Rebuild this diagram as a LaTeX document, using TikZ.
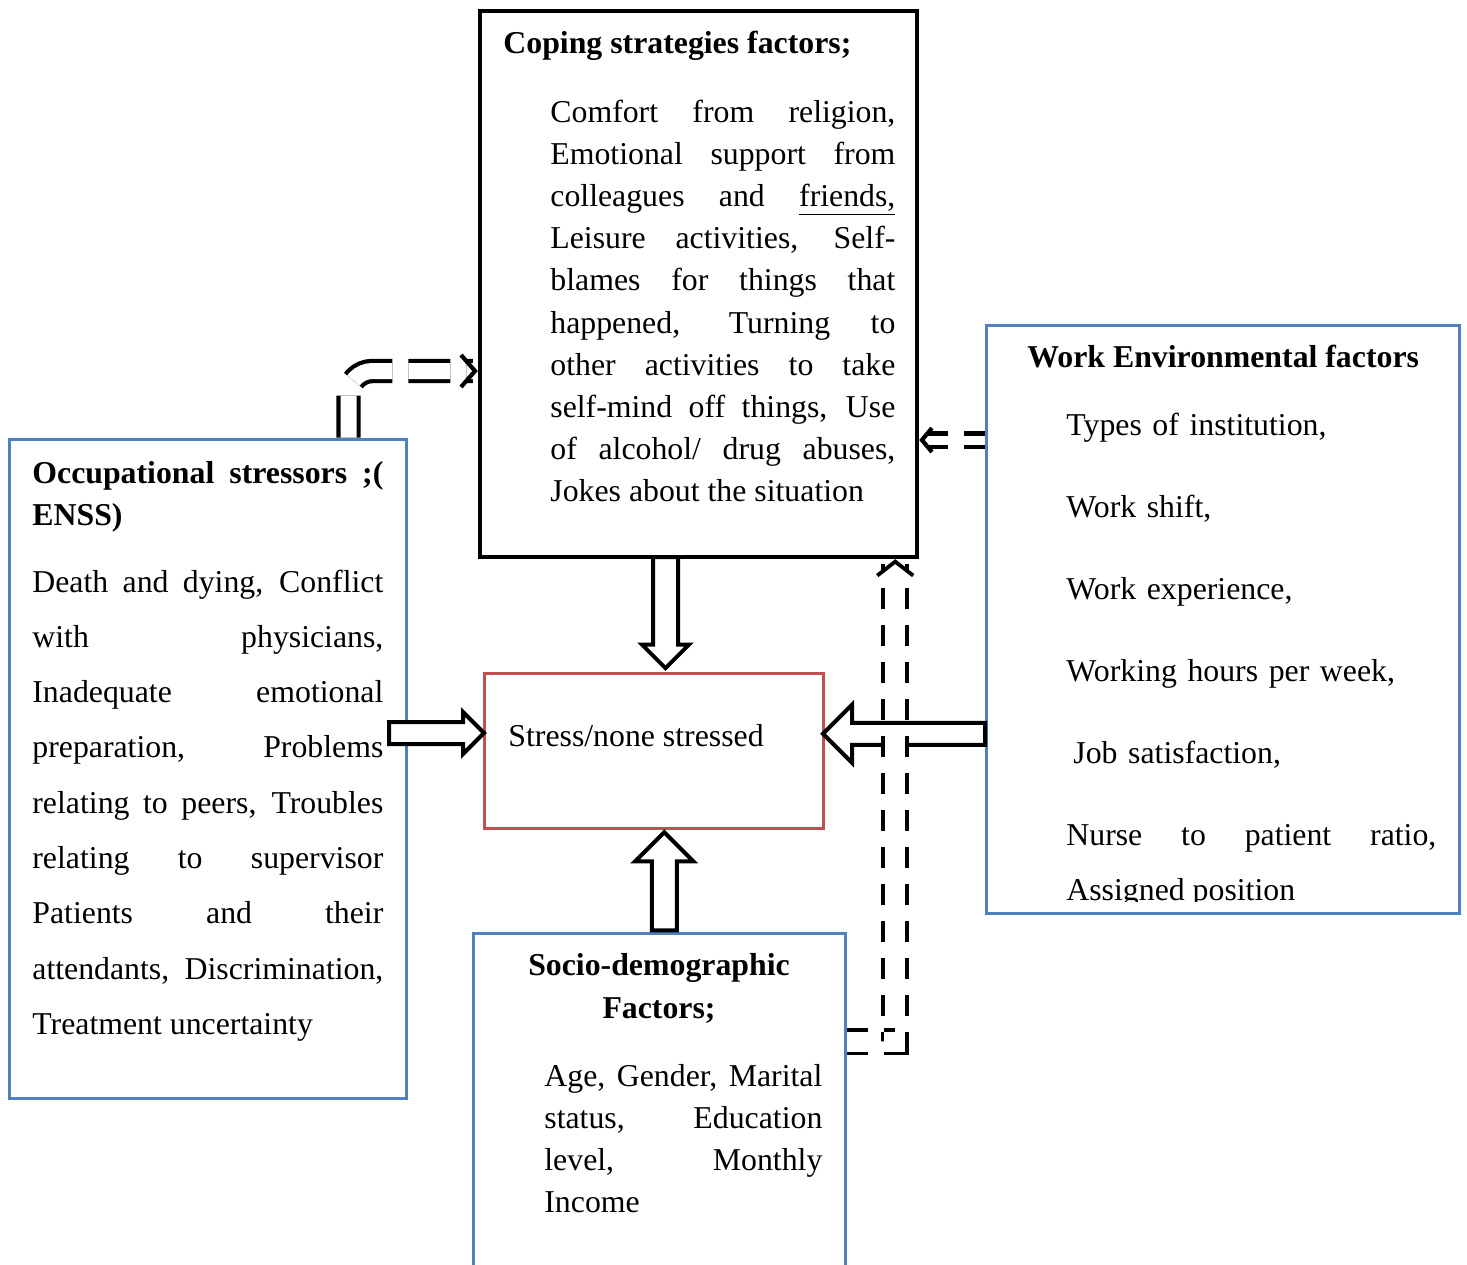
\documentclass[tikz,border=0pt]{standalone}
\usepackage{fontspec}
\setmainfont{Liberation Serif}
\usetikzlibrary{arrows.meta,shapes.arrows,calc}
\definecolor{boxblue}{RGB}{79,129,189}
\definecolor{boxred}{RGB}{192,80,77}
\tolerance=10000
\hbadness=10000
\newcommand{\txtsize}[1]{\fontsize{15.9}{#1}\selectfont}
\tikzset{
  box/.style={draw=boxblue,line width=1.5pt,inner sep=0pt},
  title/.style={font=\txtsize{21}\bfseries,inner sep=0pt,anchor=base west},
  body/.style={font=\txtsize{21.1},inner sep=0pt,anchor=base west,align=justify},
  blockarrow/.style={single arrow,draw=black,fill=white,line width=2pt,inner xsep=0pt,single arrow tip angle=90},
  dashconn/.style={draw=black,line width=2.1pt,double=white,dash pattern=on 10.5pt off 8pt},
}
\begin{document}
\begin{tikzpicture}[x=0.5pt,y=-0.5pt]
\useasboundingbox (0,0) rectangle (1467,1264);
\clip (0,0) rectangle (1467,1264);
  % Node: coping
  \node[box,draw=black,line width=2.2pt,minimum width=218.5pt,minimum height=273pt] (coping) at (698.5,284) {};
  \node[title] (copingtitle) at (503,53) {Coping strategies factors;};
  \node[body,text width=172.5pt] (copingtext) at (550,122) {Comfort from religion,\linebreak
    Emotional support from\linebreak colleagues and \underline{friends,}\linebreak
    Leisure activities, Self-\linebreak blames for things that\linebreak
    happened, Turning to\linebreak other activities to take\linebreak
    self-mind off things, Use\linebreak of alcohol/ drug abuses,\linebreak
    Jokes about the situation};
  % Node: occ
  \node[box,minimum width=198.5pt,minimum height=329.5pt] (occ) at (207.5,768.5) {};
  \node[title,text width=175.5pt,align=justify] (occtitle) at (32,483) {Occupational stressors ;(\linebreak ENSS)};
  \node[body,text width=175.5pt,font=\txtsize{27.65}] (occtext) at (32,592) {Death and dying, Conflict\linebreak
    with physicians,\linebreak Inadequate emotional\linebreak preparation, Problems\linebreak
    relating to peers, Troubles\linebreak relating to supervisor\linebreak
    Patients and their\linebreak attendants, Discrimination,\linebreak Treatment uncertainty};
  % Node: work
  \node[box,minimum width=236.5pt,minimum height=294pt] (work) at (1222.5,619) {};
  \node[title] (worktitle) at (1027,367) {Work Environmental factors};
  \node[body,text width=190pt,align=left,font=\txtsize{41}] (worklist) at (1066,435) {Types of institution,\\
    Work shift,\\ Work experience,\\ Working hours per week,\\ \hspace*{3.5pt}Job satisfaction,};
  \begin{scope}
    \clip (1000,800) rectangle (1450,901);
    \node[body,text width=185pt,font=\txtsize{27.5}] (worknurse) at (1066,845) {Nurse to patient ratio,\linebreak Assigned position};
  \end{scope}
  % Node: stress
  \node[box,draw=boxred,minimum width=169.5pt,minimum height=77.5pt] (stress) at (653.5,750.5) {};
  \node[body] (stresstext) at (508,746) {Stress/none stressed};
  % Node: socio
  \node[box,minimum width=186pt,minimum height=183.5pt] (socio) at (659,1116.5) {};
  \node[title,anchor=base,text width=180pt,align=center,font=\txtsize{21.5}\bfseries] (sociotitle) at (659,975) {Socio-demographic\\ Factors;};
  \node[body,text width=139pt,font=\txtsize{21.15}] (sociotext) at (544,1086) {Age, Gender, Marital\linebreak
    status, Education\linebreak level, Monthly\linebreak Income};
  % Edge: coping -> stress
  \node[blockarrow,shape border rotate=270,minimum height=55.5pt,inner xsep=5.25pt,inner ysep=0pt,single arrow head extend=5.5pt]
    (copearrow) at ($(coping.south)!0.5!(stress.north)+(-10.5,-9)$) {};
  % Edge: occ -> stress
  \node[blockarrow,minimum height=47.5pt,inner ysep=4.5pt,single arrow head extend=5pt]
    (occarrow) at ($(occ.east)!0.5!(stress.west)+(-14,-26.5)$) {};
  % Edge: work -> stress
  \node[blockarrow,shape border rotate=180,minimum height=81pt,inner ysep=4.5pt,single arrow head extend=9pt]
    (workarrow) at ($(work.west)!0.5!(stress.east)+(5,49)$) {};
  % Edge: socio -> stress
  \node[blockarrow,shape border rotate=90,minimum height=49pt,inner xsep=5.25pt,inner ysep=0pt,single arrow head extend=8.25pt]
    (socioarrow) at ($(socio.north)!0.5!(stress.south)+(8,7)$) {};
  % Edge: occ -> coping
  \draw[dashconn,double distance=8pt,dash pattern=on 21pt off 8pt,rounded corners=12pt,-{Straight Barb[length=7pt,width=16pt]}]
    ($(occ.north west)+(341,0)$) |- ($(coping.west)+(0,87)$);
  % Edge: work -> coping
  \draw[dashconn,double distance=4.5pt,-{Straight Barb[length=5pt,width=12pt]}]
    ($(work.west)+(0,-179)$) -- ($(coping.east)+(0,156)$);
  % Edge: socio -> coping
  \draw[dashconn,line width=1.9pt,double distance=10pt,-{Straight Barb[length=7pt,width=18pt]}]
    ($(socio.north east)+(0,110)$) -| ($(coping.south east)+(-24,0)$);
\end{tikzpicture}
\end{document}
